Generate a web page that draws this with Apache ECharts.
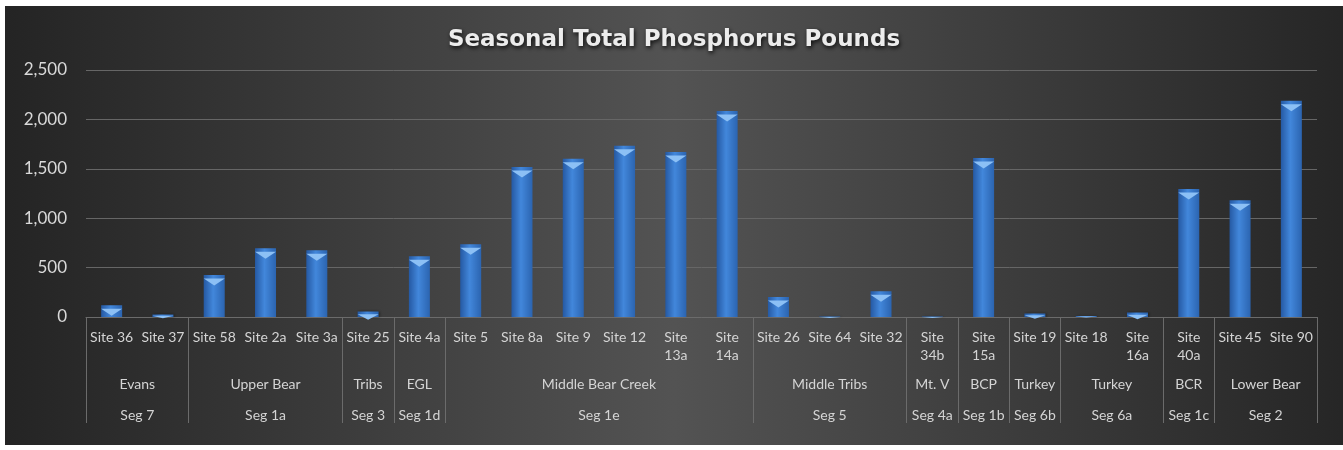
<!DOCTYPE html>
<html lang="en">
<head>
	<meta charset="UTF-8">
	<title>Seasonal Total Phosphorus Pounds</title>
	<style>
		html, body { margin: 0; padding: 0; background: #fff; }
		#main { position: absolute; left: 5px; top: 6px; width: 1338px; height: 439px; }
	</style>
</head>
<body>
	<div id="main"></div>
<script src="https://cdn.jsdelivr.net/npm/echarts@6/dist/echarts.min.js"></script>
<script>
	// site level (bars)
	var sites = ['Site 36', 'Site 37', 'Site 58', 'Site 2a', 'Site 3a', 'Site 25', 'Site 4a',
		'Site 5', 'Site 8a', 'Site 9', 'Site 12', 'Site 13a', 'Site 14a',
		'Site 26', 'Site 64', 'Site 32', 'Site 34b', 'Site 15a', 'Site 19',
		'Site 18', 'Site 16a', 'Site 40a', 'Site 45', 'Site 90'];
	var pounds = [120, 25, 425, 695, 675, 55, 614,
		736, 1518, 1602, 1734, 1670, 2085,
		202, 5, 260, 5, 1609, 35,
		10, 45, 1296, 1181, 2189];
	// labels that wrap onto two lines in the original
	var wrapped = ['Site 13a', 'Site 14a', 'Site 34b', 'Site 15a', 'Site 16a', 'Site 40a'];

	// upper levels of the category axis
	var regions = ['Evans', 'Upper Bear', 'Tribs', 'EGL', 'Middle Bear Creek', 'Middle Tribs',
		'Mt. V', 'BCP', 'Turkey', 'Turkey', 'BCR', 'Lower Bear'];
	var segments = ['Seg 7', 'Seg 1a', 'Seg 3', 'Seg 1d', 'Seg 1e', 'Seg 5',
		'Seg 4a', 'Seg 1b', 'Seg 6b', 'Seg 6a', 'Seg 1c', 'Seg 2'];
	var groupSizes = [2, 3, 1, 1, 6, 3, 1, 1, 1, 2, 1, 2];

	var yTicks = [0, 500, 1000, 1500, 2000, 2500];

	// group boundaries and centres in category units
	var bounds = [0];
	var centers = [];
	groupSizes.forEach(function (n) {
		var start = bounds[bounds.length - 1];
		centers.push(start + n / 2);
		bounds.push(start + n);
	});

	var labelFont = 'Lato, "Open Sans", sans-serif';
	var sepLine = { color: '#6b6b6b', width: 1 };

	var myChart = echarts.init(document.getElementById('main'));

	var option = {
		backgroundColor: new echarts.graphic.LinearGradient(0, 0, 1, 0, [
			{ offset: 0, color: '#242424' },
			{ offset: 0.5, color: '#535353' },
			{ offset: 1, color: '#262626' }
		]),
		title: {
			text: 'Seasonal Total Phosphorus Pounds',
			left: 'center',
			top: 18,
			textStyle: {
				fontFamily: '"DejaVu Sans", sans-serif',
				fontSize: 23,
				fontWeight: 'bold',
				color: '#ececec',
				textShadowColor: 'rgba(0,0,0,0.85)',
				textShadowBlur: 4,
				textShadowOffsetX: 1,
				textShadowOffsetY: 2
			}
		},
		grid: { left: 81, right: 26, top: 64, bottom: 128 },
		xAxis: [{
			type: 'category',
			position: 'bottom',
			data: sites,
			axisLine: { show: true, lineStyle: sepLine },
			axisTick: { show: false },
			axisLabel: {
				interval: 0,
				margin: 11,
				fontFamily: labelFont,
				fontSize: 14,
				lineHeight: 18,
				color: '#d4d4d4',
				formatter: function (v) {
					return wrapped.indexOf(v) >= 0 ? v.replace(' ', '\n') : v;
				}
			}
		}, {
			type: 'value',
			position: 'bottom',
			min: 0,
			max: sites.length,
			axisLine: { show: false },
			splitLine: { show: false },
			axisTick: { show: true, customValues: bounds, length: 106, lineStyle: sepLine },
			axisLabel: {
				customValues: centers,
				margin: 60,
				fontFamily: labelFont,
				fontSize: 14,
				color: '#d4d4d4',
				formatter: function (v) { return regions[centers.indexOf(v)]; }
			}
		}, {
			type: 'value',
			position: 'bottom',
			min: 0,
			max: sites.length,
			axisLine: { show: false },
			splitLine: { show: false },
			axisTick: { show: false },
			axisLabel: {
				customValues: centers,
				margin: 91,
				fontFamily: labelFont,
				fontSize: 14,
				color: '#d4d4d4',
				formatter: function (v) { return segments[centers.indexOf(v)]; }
			}
		}],
		yAxis: {
			type: 'value',
			min: yTicks[0],
			max: yTicks[yTicks.length - 1],
			interval: 500,
			axisLine: { show: false },
			axisTick: { show: false },
			splitLine: { lineStyle: { color: '#666666', width: 1 } },
			axisLabel: {
				margin: 19,
				fontFamily: labelFont,
				fontSize: 17,
				color: '#d9d9d9',
				formatter: function (v) { return v.toLocaleString('en-US'); }
			}
		},
		series: [{
			type: 'bar',
			data: pounds,
			barWidth: 21,
			itemStyle: {
				color: new echarts.graphic.LinearGradient(0, 0, 1, 0, [
					{ offset: 0, color: '#2559a3' },
					{ offset: 0.45, color: '#4287db' },
					{ offset: 1, color: '#2b64b0' }
				]),
				shadowColor: 'rgba(0,0,0,0.5)',
				shadowBlur: 3,
				shadowOffsetX: 1
			}
		}, {
			// light bevel cap on each bar top
			type: 'pictorialBar',
			symbol: 'path://M0,0L20,0L10,7Z',
			symbolPosition: 'end',
			symbolOffset: [0, '50%'],
			z: 3,
			itemStyle: { color: '#8cc0f5' },
			data: pounds.map(function (v) {
				return { value: v, symbolSize: [21, Math.max(1, Math.min(7, v * 0.1))] };
			})
		}]
	};

	myChart.setOption(option);
</script>
</body>
</html>
